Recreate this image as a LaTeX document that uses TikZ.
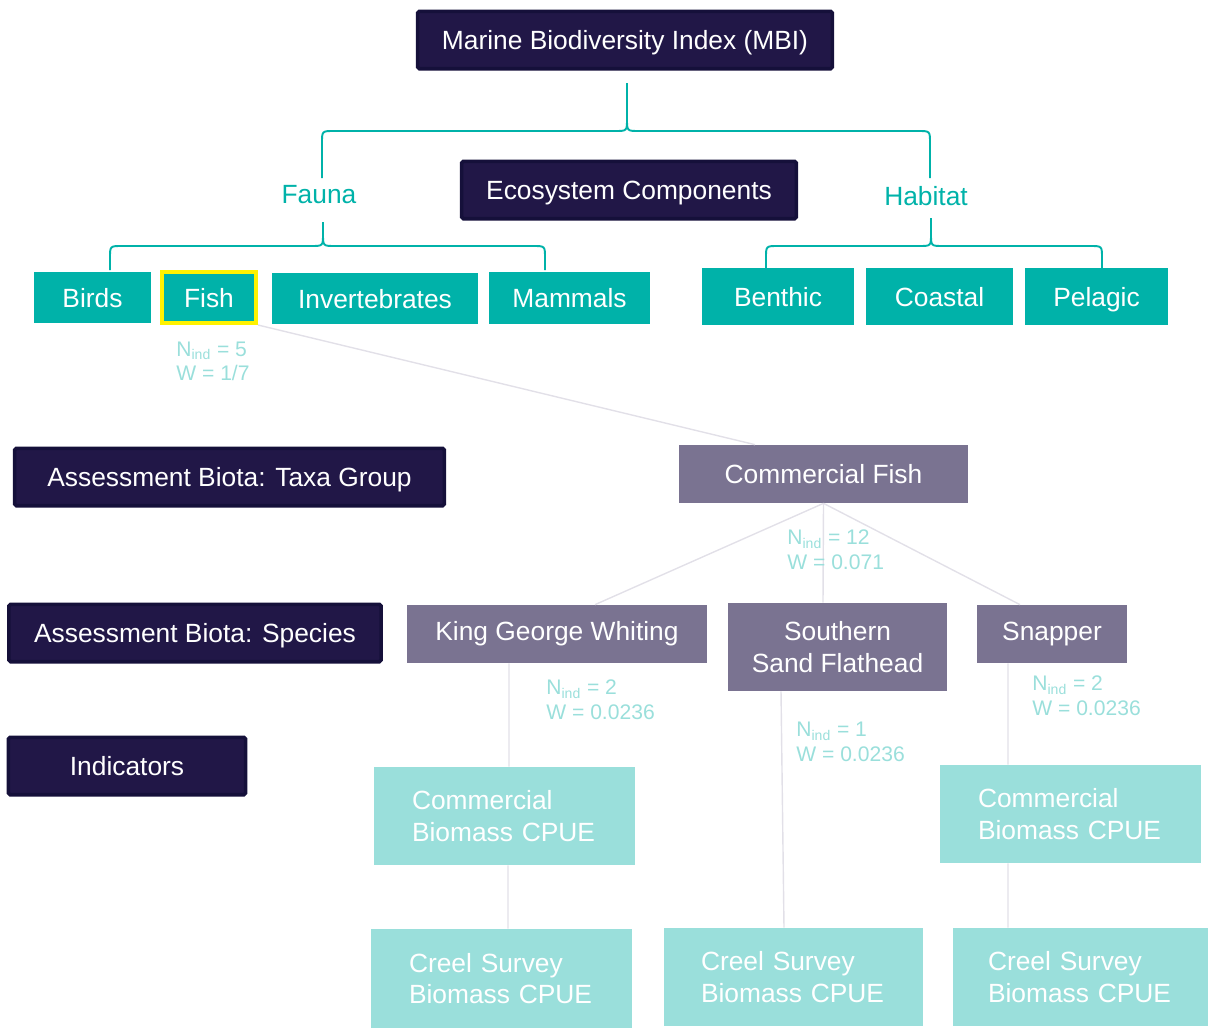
\documentclass[tikz,border=0pt]{standalone}
\usepackage{fontspec}
\setmainfont{Liberation Sans}
\usetikzlibrary{calc}

\definecolor{navy}{HTML}{211747}
\definecolor{navyline}{HTML}{15103A}
\definecolor{mbiteal}{HTML}{00B2A9}
\definecolor{paleteal}{HTML}{9ADFDB}
\definecolor{greyviolet}{HTML}{7A7391}
\definecolor{linkgrey}{HTML}{E2E0E8}

\tikzset{
  tierbox/.style={draw=navyline, fill=navy, line width=2pt, rounded corners=1pt,
    text=white, font=\fontsize{15}{18}\selectfont, inner sep=0pt, text depth=0pt,
    minimum height=1.15cm},
  groupbox/.style={fill=mbiteal, text=white, font=\fontsize{15}{18}\selectfont,
    inner sep=0pt, text depth=0pt},
  taxabox/.style={fill=greyviolet, text=white, align=center,
    font=\fontsize{15}{18}\selectfont, inner sep=0pt, minimum height=1.16cm},
  indbox/.style={fill=paleteal, text=white, align=left, font=\fontsize{15}{18}\selectfont,
    inner xsep=0.76cm, inner ysep=0pt, text width=3.7cm, minimum height=1.96cm},
  wlabel/.style={text=paleteal, font=\fontsize{12}{14}\selectfont, align=left,
    anchor=west, inner sep=0pt},
  catlabel/.style={text=mbiteal, font=\fontsize{15}{18}\selectfont, inner sep=0pt},
  linkline/.style={draw=linkgrey, line width=0.8pt},
  curly/.style={draw=mbiteal, line width=1.1pt}
}

\begin{document}
\begin{tikzpicture}[x=0.02cm, y=-0.02cm]
  \useasboundingbox (0,0) rectangle (1208,1028);

  % tier headings
  \node[tierbox, minimum width=8.3cm] (mbi) at (625,40) {Marine Biodiversity Index (MBI)};
  \node[tierbox, minimum width=6.7cm] (eco) at (629,190) {Ecosystem Components};
  \node[tierbox, minimum width=8.6cm] (taxa) at (229.5,477) {Assessment Biota: Taxa Group};
  \node[tierbox, minimum width=7.45cm] (species) at (195,633) {Assessment Biota: Species};
  \node[tierbox, minimum width=4.75cm] (indic) at (127,766) {Indicators};

  % fauna and habitat
  \node[catlabel] (fauna) at (319,195) {Fauna};
  \node[catlabel] (habitat) at (926,196) {Habitat};

  \node[groupbox, minimum width=2.34cm, minimum height=1.02cm] (birds) at (92.5,297.5) {Birds};
  \node[groupbox, draw=yellow, line width=2.3pt, minimum width=1.88cm, minimum height=1.02cm] (fish) at (209,297.5) {Fish};
  \node[groupbox, minimum width=4.12cm, minimum height=1.02cm] (invert) at (375,298.5) {Invertebrates};
  \node[groupbox, minimum width=3.22cm, minimum height=1.04cm] (mammals) at (569.5,298) {Mammals};
  \node[groupbox, minimum width=3.04cm, minimum height=1.14cm] (benthic) at (778,296.5) {Benthic};
  \node[groupbox, minimum width=2.94cm, minimum height=1.14cm] (coastal) at (939.5,296.5) {Coastal};
  \node[groupbox, minimum width=2.86cm, minimum height=1.14cm] (pelagic) at (1096.5,296.5) {Pelagic};

  % braces
  \draw[curly] (322,178) -- (322,143) .. controls (322,131) .. (334,131) -- (615,131)
    .. controls (627,131) .. (627,119) -- (627,83)
    (627,119) .. controls (627,131) .. (639,131) -- (918,131)
    .. controls (930,131) .. (930,143) -- (930,178);
  \draw[curly] (110,270) -- (110,258) .. controls (110,246) .. (122,246) -- (311,246)
    .. controls (323,246) .. (323,234) -- (323,222)
    (323,234) .. controls (323,246) .. (335,246) -- (533,246)
    .. controls (545,246) .. (545,258) -- (545,270);
  \draw[curly] (766,268) -- (766,258) .. controls (766,246) .. (778,246) -- (919,246)
    .. controls (931,246) .. (931,234) -- (931,218)
    (931,234) .. controls (931,246) .. (943,246) -- (1090,246)
    .. controls (1102,246) .. (1102,258) -- (1102,268);

  % taxa and species
  \node[taxabox, minimum width=5.78cm] (comfish) at (823.5,474) {Commercial Fish};
  \node[taxabox, minimum width=6.0cm] (kgw) at (557,634) {King George Whiting};
  \node[taxabox, minimum width=4.38cm, minimum height=1.76cm] (ssf) at (837.5,647) {Southern\\Sand Flathead};
  \node[taxabox, minimum width=3.0cm] (snapper) at (1052,634) {Snapper};

  % indicators
  \node[indbox] (cb1) at (504.5,816) {Commercial\\Biomass CPUE};
  \node[indbox] (cb2) at (1070.5,814) {Commercial\\Biomass CPUE};
  \node[indbox, minimum height=1.98cm] (cs1) at (501.5,978.5) {Creel Survey\\Biomass CPUE};
  \node[indbox, inner xsep=0.74cm] (cs2) at (793.5,977) {Creel Survey\\Biomass CPUE};
  \node[indbox, inner xsep=0.7cm] (cs3) at (1080.5,977) {Creel Survey\\Biomass CPUE};

  % links
  \draw[linkline] (fish.south east) -- ([xshift=-1.37cm]comfish.north);
  \draw[linkline] (comfish.south) -- ([xshift=0.76cm]kgw.north);
  \draw[linkline] (comfish.south) -- ([xshift=-0.29cm]ssf.north);
  \draw[linkline] (comfish.south) -- ([xshift=-0.64cm]snapper.north);
  \draw[linkline] ([xshift=-0.96cm]kgw.south) -- ([xshift=0.09cm]cb1.north);
  \draw[linkline] ([xshift=0.07cm]cb1.south) -- ([xshift=0.13cm]cs1.north);
  \draw[linkline] ([xshift=-1.13cm]ssf.south) -- ([xshift=-0.19cm]cs2.north);
  \draw[linkline] ([xshift=-0.88cm]snapper.south) -- ([xshift=-1.25cm]cb2.north);
  \draw[linkline] ([xshift=-1.25cm]cb2.south) -- ([xshift=-1.45cm]cs3.north);

  % weights
  \node[wlabel] (wfish) at (176,361.5) {N\textsubscript{ind} = 5\\W = 1/7};
  \node[wlabel] (wcom) at (787,550) {N\textsubscript{ind} = 12\\W = 0.071};
  \node[wlabel] (wkgw) at (546,700) {N\textsubscript{ind} = 2\\W = 0.0236};
  \node[wlabel] (wssf) at (796,742) {N\textsubscript{ind} = 1\\W = 0.0236};
  \node[wlabel] (wsnap) at (1032,696) {N\textsubscript{ind} = 2\\W = 0.0236};
\end{tikzpicture}
\end{document}
